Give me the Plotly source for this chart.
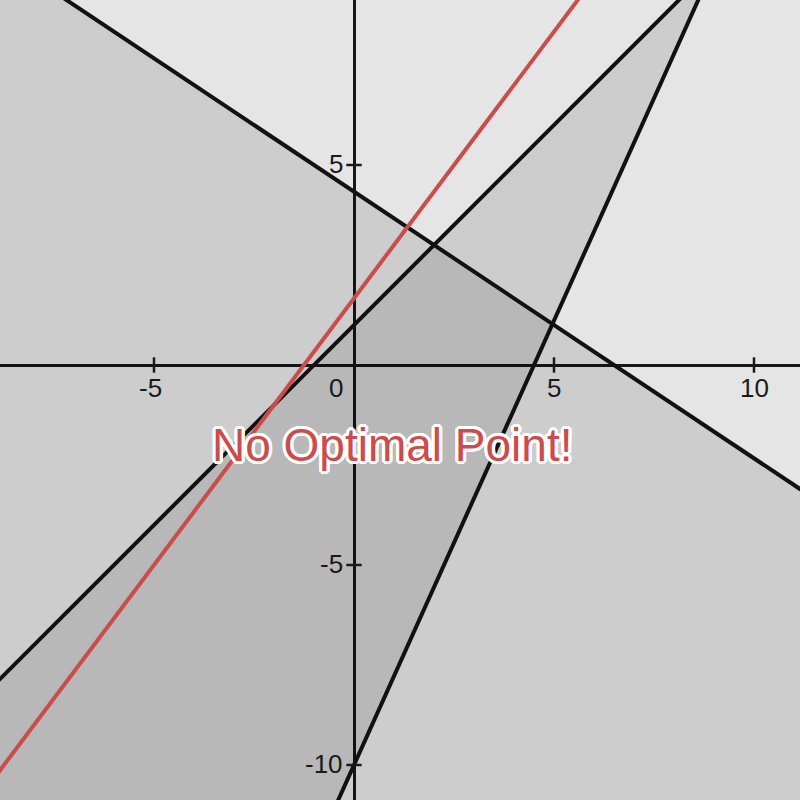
import plotly.graph_objects as go

# Axis ranges (data units)
x_range = [-8.85, 11.15]
y_range = [-10.875, 9.125]

# Constraints a*x + b*y <= c  (feasible side shaded)
con_a = [2, -1, 20]
con_b = [3, 1, -9]
con_c = [13, 1, 90]

# Objective line a*x + b*y = c
obj_a, obj_b, obj_c = -4, 3, 5

x_ticks = [-5, 5, 10]
y_ticks = [5, -5, -10]
origin_label = "0"
message = "No Optimal Point!"

RED = "#cc4b4b"
FONT = "Liberation Sans, Arial, sans-serif"


def clip(poly, a, b, c):
    out = []
    n = len(poly)
    for i in range(n):
        p, q = poly[i], poly[(i + 1) % n]
        fp = a * p[0] + b * p[1] - c
        fq = a * q[0] + b * q[1] - c
        if fp <= 0:
            out.append(p)
        if (fp < 0 < fq) or (fq < 0 < fp):
            t = fp / (fp - fq)
            out.append((p[0] + t * (q[0] - p[0]), p[1] + t * (q[1] - p[1])))
    return out


def line_pts(a, b, c):
    x0, x1 = x_range[0] - 2, x_range[1] + 2
    if abs(b) > 1e-12:
        return [x0, x1], [(c - a * x0) / b, (c - a * x1) / b]
    return [c / a, c / a], [y_range[0] - 2, y_range[1] + 2]


box = [(x_range[0] - 1, y_range[0] - 1), (x_range[1] + 1, y_range[0] - 1),
       (x_range[1] + 1, y_range[1] + 1), (x_range[0] - 1, y_range[1] + 1)]

fig = go.Figure()

for a, b, c in zip(con_a, con_b, con_c):
    poly = clip(box, a, b, c)
    fig.add_trace(go.Scatter(x=[p[0] for p in poly] + [poly[0][0]],
                             y=[p[1] for p in poly] + [poly[0][1]],
                             mode="lines", fill="toself",
                             fillcolor="rgba(0,0,0,0.1)",
                             line=dict(width=0), hoverinfo="skip",
                             showlegend=False))

for a, b, c in zip(con_a, con_b, con_c):
    xs, ys = line_pts(a, b, c)
    fig.add_trace(go.Scatter(x=xs, y=ys, mode="lines",
                             line=dict(color="#111111", width=4),
                             showlegend=False, hoverinfo="skip"))

xs, ys = line_pts(obj_a, obj_b, obj_c)
fig.add_trace(go.Scatter(x=xs, y=ys, mode="lines",
                         line=dict(color=RED, width=4),
                         showlegend=False, hoverinfo="skip"))

# Tick marks crossing the axes
fig.add_trace(go.Scatter(x=x_ticks, y=[0] * len(x_ticks), mode="markers",
                         marker=dict(symbol="line-ns", size=11,
                                     line=dict(color="#1a1a1a", width=2.5)),
                         showlegend=False, hoverinfo="skip"))
fig.add_trace(go.Scatter(x=[0] * len(y_ticks), y=y_ticks, mode="markers",
                         marker=dict(symbol="line-ew", size=11,
                                     line=dict(color="#1a1a1a", width=2.5)),
                         showlegend=False, hoverinfo="skip"))

annotations = []
lab_font = dict(family=FONT, size=26, color="#1a1a1a")
for v in x_ticks:
    annotations.append(dict(x=v, y=0, text=str(v), showarrow=False,
                            xanchor="center", yanchor="top",
                            xshift=-4 if v < 0 else 0, yshift=-6,
                            font=lab_font))
for v in y_ticks:
    annotations.append(dict(x=0, y=v, text=str(v), showarrow=False,
                            xanchor="right", yanchor="middle",
                            xshift=-9, yshift=1, font=lab_font))
annotations.append(dict(x=0, y=0, text=origin_label, showarrow=False,
                        xanchor="right", yanchor="top", xshift=-9, yshift=-6,
                        font=lab_font))

w = "white"
shadow = ", ".join(f"{dx}px {dy}px 0 {w}" for dx, dy in
                   [(3, 0), (-3, 0), (0, 3), (0, -3), (2, 2), (-2, -2), (2, -2), (-2, 2),
                    (3, 1), (-3, 1), (3, -1), (-3, -1), (1, 3), (1, -3), (-1, 3), (-1, -3)])
annotations.append(dict(x=0.96, y=-2.0, text=message, showarrow=False,
                        xanchor="center", yanchor="middle",
                        font=dict(family=FONT, size=46, color=RED, shadow=shadow)))

fig.update_layout(
    width=800, height=800,
    margin=dict(l=0, r=0, t=0, b=0),
    paper_bgcolor="white", plot_bgcolor="white",
    xaxis=dict(range=x_range, showgrid=False, zeroline=True,
               zerolinecolor="#1a1a1a", zerolinewidth=2.5,
               showticklabels=False, ticks="", showline=False, fixedrange=True),
    yaxis=dict(range=y_range, showgrid=False, zeroline=True,
               zerolinecolor="#1a1a1a", zerolinewidth=2.5,
               showticklabels=False, ticks="", showline=False, fixedrange=True),
    annotations=annotations,
    showlegend=False,
)

fig.write_html("out.html", config={"displayModeBar": False},
               post_script="document.body.style.margin='0';document.body.style.padding='0';")
